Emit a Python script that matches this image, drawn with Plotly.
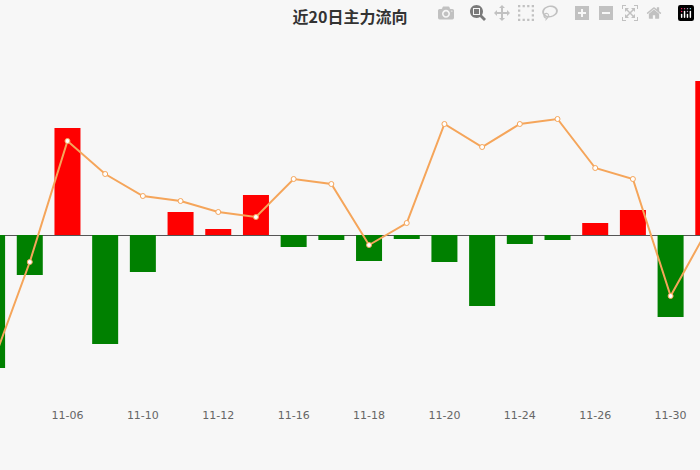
import plotly.graph_objects as go

dates = ["11-04","11-05","11-06","11-07","11-10","11-11","11-12","11-13","11-16","11-17",
         "11-18","11-19","11-20","11-21","11-24","11-25","11-26","11-27","11-30","12-01"]
flow = [-133,-40,107,-109,-37,23,6,40,-12,-5,-26,-4,-27,-71,-9,-5,12,25,-82,154]
trend = [-130,-27,94,61,39,34,23,18,56,51,-10,12,111,88,111,116,67,56,-61,7]
tick_labels = ["11-04","11-06","11-10","11-12","11-16","11-18","11-20","11-24","11-26","11-30"]

xs = list(range(len(dates)))
colors = ["#ff0000" if v >= 0 else "#008000" for v in flow]

fig = go.Figure()
fig.add_trace(go.Bar(x=xs, y=flow, marker_color=colors, width=0.69, marker_line_width=0))
fig.add_trace(go.Scatter(x=xs, y=trend, mode="lines+markers",
                         line=dict(color="#f5a55a", width=2),
                         marker=dict(size=5, color="white", line=dict(color="#f5a55a", width=1))))
tickvals = [xs[dates.index(t)] for t in tick_labels]
fig.update_layout(
    width=700, height=470, showlegend=False,
    paper_bgcolor="#f7f7f7", plot_bgcolor="#f7f7f7",
    margin=dict(l=0, r=0, t=40, b=75),
    title=dict(text="<b>近20日主力流向</b>", x=0.5, y=0.975, xanchor="center",
               font=dict(family="Noto Sans CJK SC", size=16, color="#333")),
    xaxis=dict(range=[0.21, 18.78], tickvals=tickvals, ticktext=tick_labels,
               showgrid=False, zeroline=False, showline=False,
               ticks="outside", ticklen=10, tickcolor="rgba(0,0,0,0)",
               tickfont=dict(family="DejaVu Sans", size=11, color="#666")),
    yaxis=dict(range=[-160, 195], showgrid=False, showticklabels=False,
               zeroline=True, zerolinecolor="#555", zerolinewidth=1),
)
fig.write_html("out.html", post_script="document.body.style.margin='0';document.body.style.background='#f7f7f7';")
